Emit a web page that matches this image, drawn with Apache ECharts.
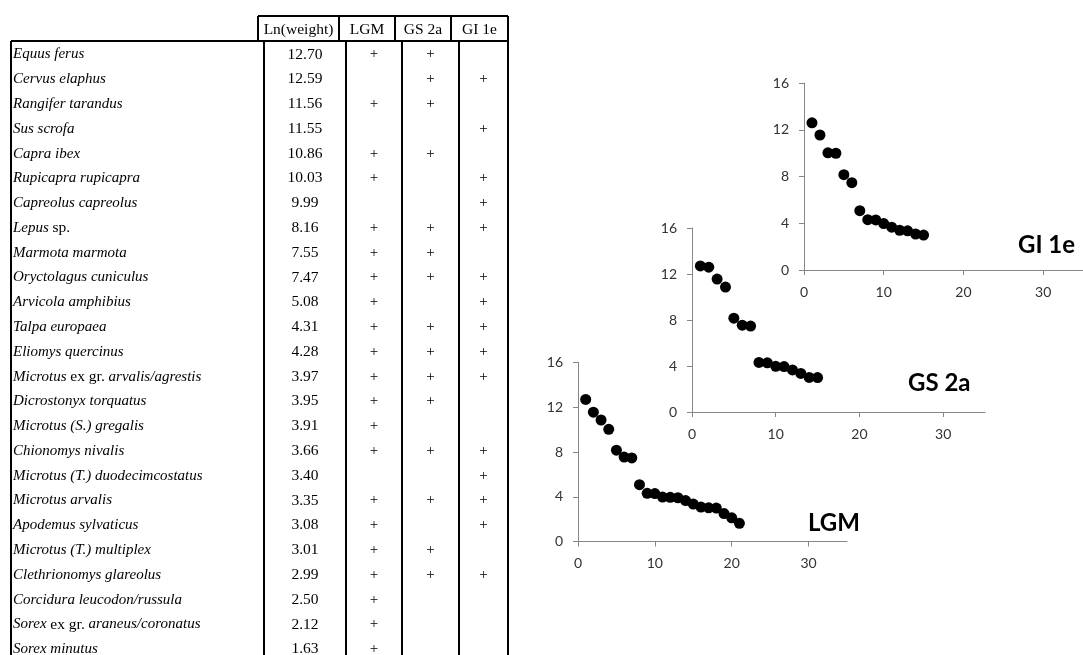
<!DOCTYPE html>
<html><head><meta charset="utf-8">
<script src="https://cdn.jsdelivr.net/npm/echarts@6/dist/echarts.min.js"></script>
<style>html,body{margin:0;padding:0;background:#fff}#c{width:1083px;height:655px}</style>
</head><body><div id="c"></div>
<script>
// ---- Table data ----
const species = [
  'Equus ferus','Cervus elaphus','Rangifer tarandus','Sus scrofa','Capra ibex',
  'Rupicapra rupicapra','Capreolus capreolus','Lepus sp.','Marmota marmota','Oryctolagus cuniculus',
  'Arvicola amphibius','Talpa europaea','Eliomys quercinus','Microtus ex gr. arvalis/agrestis','Dicrostonyx torquatus',
  'Microtus (S.) gregalis','Chionomys nivalis','Microtus (T.) duodecimcostatus','Microtus arvalis','Apodemus sylvaticus',
  'Microtus (T.) multiplex','Clethrionomys glareolus','Corcidura leucodon/russula','Sorex ex gr. araneus/coronatus','Sorex minutus'
];
const lnWeight = [12.70,12.59,11.56,11.55,10.86,10.03,9.99,8.16,7.55,7.47,5.08,4.31,4.28,3.97,3.95,3.91,3.66,3.40,3.35,3.08,3.01,2.99,2.50,2.12,1.63];
const presLGM  = [1,0,1,0,1,1,0,1,1,1,1,1,1,1,1,1,1,0,1,1,1,1,1,1,1];
const presGS2a = [1,1,1,0,1,0,0,1,1,1,0,1,1,1,1,0,1,0,1,0,1,1,0,0,0];
const presGI1e = [0,1,0,1,0,1,1,1,0,1,1,1,1,1,0,0,1,1,1,1,0,1,0,0,0];
const headers = ['Ln(weight)','LGM','GS 2a','GI 1e'];
const romanTokens = ['ex gr.','sp.'];
// ---- Plot data ----
const periodNames = ['LGM','GS 2a','GI 1e'];
const periodFlags = [presLGM, presGS2a, presGI1e];
const xTicks = [0,10,20,30];

function seriesFor(flags){
  const out = []; let r = 0;
  lnWeight.forEach((v,i)=>{ if(flags[i]){ r++; out.push([r, v]); } });
  return out;
}
function richName(name){
  let s = name;
  romanTokens.forEach(t=>{ s = s.split(t).join('}{r|'+t+'}{i|'); });
  return '{i|'+s+'}';
}

// ---- layout ----
const T = { left:11, right:508, headTop:16, bodyTop:41, rowH:24.78, firstRow:54.5, bottom:660,
  headCols:[258,339,395,451,508], bodyCols:[264,346,402,459,508] };
const serif = '"Liberation Serif", "DejaVu Serif", serif';
const g = [];
function line(x1,y1,x2,y2){ g.push({type:'line', silent:true, shape:{x1,y1,x2,y2}, style:{stroke:'#000', lineWidth:2}}); }
line(T.headCols[0], T.headTop, T.right, T.headTop);
T.headCols.forEach(x=>line(x, T.headTop, x, T.bodyTop));
line(T.left, T.bodyTop, T.right, T.bodyTop);
[T.left].concat(T.bodyCols).forEach(x=>line(x, T.bodyTop, x, T.bottom));
headers.forEach((h,k)=>{
  g.push({type:'text', silent:true, x:(T.headCols[k]+T.headCols[k+1])/2, y:(T.headTop+T.bodyTop)/2+1,
    style:{text:h, font:'15.5px '+serif, fill:'#000', align:'center', verticalAlign:'middle'}});
});
const richStyles = { i:{fontFamily:serif, fontStyle:'italic', fontSize:15, fill:'#000', color:'#000'},
                     r:{fontFamily:serif, fontSize:15.5, fill:'#000', color:'#000'} };
species.forEach((s,i)=>{
  const cy = T.firstRow + i*T.rowH;
  g.push({type:'text', silent:true, x:T.left+2, y:cy, style:{text:richName(s), rich:richStyles, align:'left', verticalAlign:'middle'}});
  g.push({type:'text', silent:true, x:(T.bodyCols[0]+T.bodyCols[1])/2, y:cy,
    style:{text:lnWeight[i].toFixed(2), font:'15.5px '+serif, fill:'#000', align:'center', verticalAlign:'middle'}});
  periodFlags.forEach((f,k)=>{
    if(f[i]) g.push({type:'text', silent:true, x:(T.bodyCols[k+1]+T.bodyCols[k+2])/2, y:cy,
      style:{text:'+', font:'15px '+serif, fill:'#000', align:'center', verticalAlign:'middle'}});
  });
});

const grids = [
  {left:578, top:362.5, width:269, height:179},
  {left:692, top:228, width:293, height:184},
  {left:804, top:83, width:293, height:187}
];
const plotLabels = [ {x:808, y:523}, {x:908, y:383}, {x:1018, y:245} ];
plotLabels.forEach((p,k)=>{
  g.push({type:'text', silent:true, x:p.x, y:p.y, z:10,
    style:{text:periodNames[k], font:'bold 24px Lato, "Open Sans", sans-serif', fill:'#000', align:'left', verticalAlign:'middle'}});
});

const axisFont = {fontFamily:'Lato, "Open Sans", sans-serif', fontSize:14, color:'#333'};
const option = {
  animation:false,
  backgroundColor:'#fff',
  grid: grids.map(gr=>Object.assign({containLabel:false}, gr)),
  xAxis: grids.map((gr,k)=>({type:'value', gridIndex:k, min:0, max:35,
    axisLine:{show:true, onZero:false, lineStyle:{color:'#868686', width:1}},
    axisTick:{show:true, length:5, inside:false, customValues:xTicks, lineStyle:{color:'#868686'}},
    axisLabel:Object.assign({customValues:xTicks, margin:15}, axisFont),
    splitLine:{show:false}})),
  yAxis: grids.map((gr,k)=>({type:'value', gridIndex:k, min:0, max:16, interval:4,
    axisLine:{show:true, onZero:false, lineStyle:{color:'#868686', width:1}},
    axisTick:{show:true, length:5, inside:false, lineStyle:{color:'#868686'}},
    axisLabel:Object.assign({margin:15}, axisFont),
    splitLine:{show:false}})),
  series: periodFlags.map((f,k)=>({type:'scatter', name:periodNames[k], xAxisIndex:k, yAxisIndex:k,
    data:seriesFor(f), symbol:'circle', symbolSize:11, itemStyle:{color:'#000', opacity:1}})),
  graphic: g
};
const chart = echarts.init(document.getElementById('c'), null, {renderer:'canvas'});
chart.setOption(option);
</script></body></html>
